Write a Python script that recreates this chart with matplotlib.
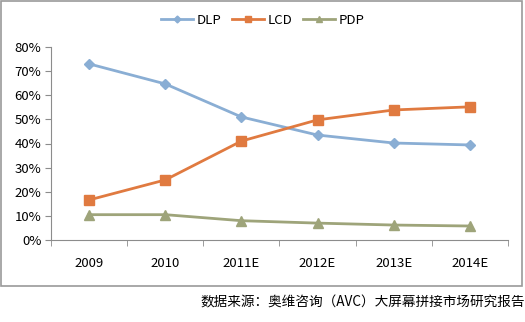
import matplotlib.pyplot as plt
from matplotlib.patches import Rectangle

plt.rcParams['font.family'] = ['Noto Sans CJK SC', 'DejaVu Sans']

years = ['2009', '2010', '2011E', '2012E', '2013E', '2014E']
dlp = [73.0, 64.7, 51.0, 43.5, 40.2, 39.4]
lcd = [16.6, 24.9, 41.0, 49.8, 53.9, 55.2]
pdp = [10.5, 10.5, 8.0, 7.0, 6.2, 5.8]
source_text = '数据来源：奥维咨询（AVC）大屏幕拼接市场研究报告'

W, H = 525, 322
fig = plt.figure(figsize=(W / 100, H / 100), dpi=100)

# outer chart frame
fig.patches.append(Rectangle((1 / W, 1 - 286 / H), 521 / W, 285 / H,
                             transform=fig.transFigure, fill=False,
                             edgecolor='#9a9a9a', linewidth=1.2))

ax = fig.add_axes([51 / W, 1 - 240 / H, (508 - 51) / W, (240 - 47) / H])
x = list(range(len(years)))

ax.plot(x, dlp, color='#8aaed4', linewidth=2, marker='D', markersize=5, label='DLP')
ax.plot(x, lcd, color='#e07a40', linewidth=2, marker='s', markersize=7, label='LCD')
ax.plot(x, pdp, color='#9ea47a', linewidth=2, marker='^', markersize=7, label='PDP')

ax.set_xlim(-0.5, len(years) - 0.5)
ax.set_ylim(0, 80)
ax.set_yticks(range(0, 81, 10))
ax.set_yticklabels([f'{v}%' for v in range(0, 81, 10)])
ax.set_xticks(x)
ax.set_xticklabels(years)
ax.set_xticks([i - 0.5 for i in range(len(years) + 1)], minor=True)
ax.tick_params(axis='x', which='major', length=0, pad=12, labelsize=9.5)
ax.tick_params(axis='x', which='minor', length=4, color='#8c8c8c', direction='out')
ax.tick_params(axis='y', length=4, color='#8c8c8c', labelsize=9.5, pad=3)

for s in ['top', 'right']:
    ax.spines[s].set_visible(False)
for s in ['left', 'bottom']:
    ax.spines[s].set_color('#8c8c8c')

ax.legend(loc='center', bbox_to_anchor=(263 / W, 1 - 20 / H), bbox_transform=fig.transFigure,
          ncol=3, frameon=False, fontsize=9.5, handlelength=2.4, handletextpad=0.3,
          columnspacing=0.8, markerscale=0.7)

fig.text(525 / W, 1 - 302 / H, source_text, ha='right', va='center', fontsize=9.8,
         fontweight='medium')

fig.savefig('out.png', dpi=100)
